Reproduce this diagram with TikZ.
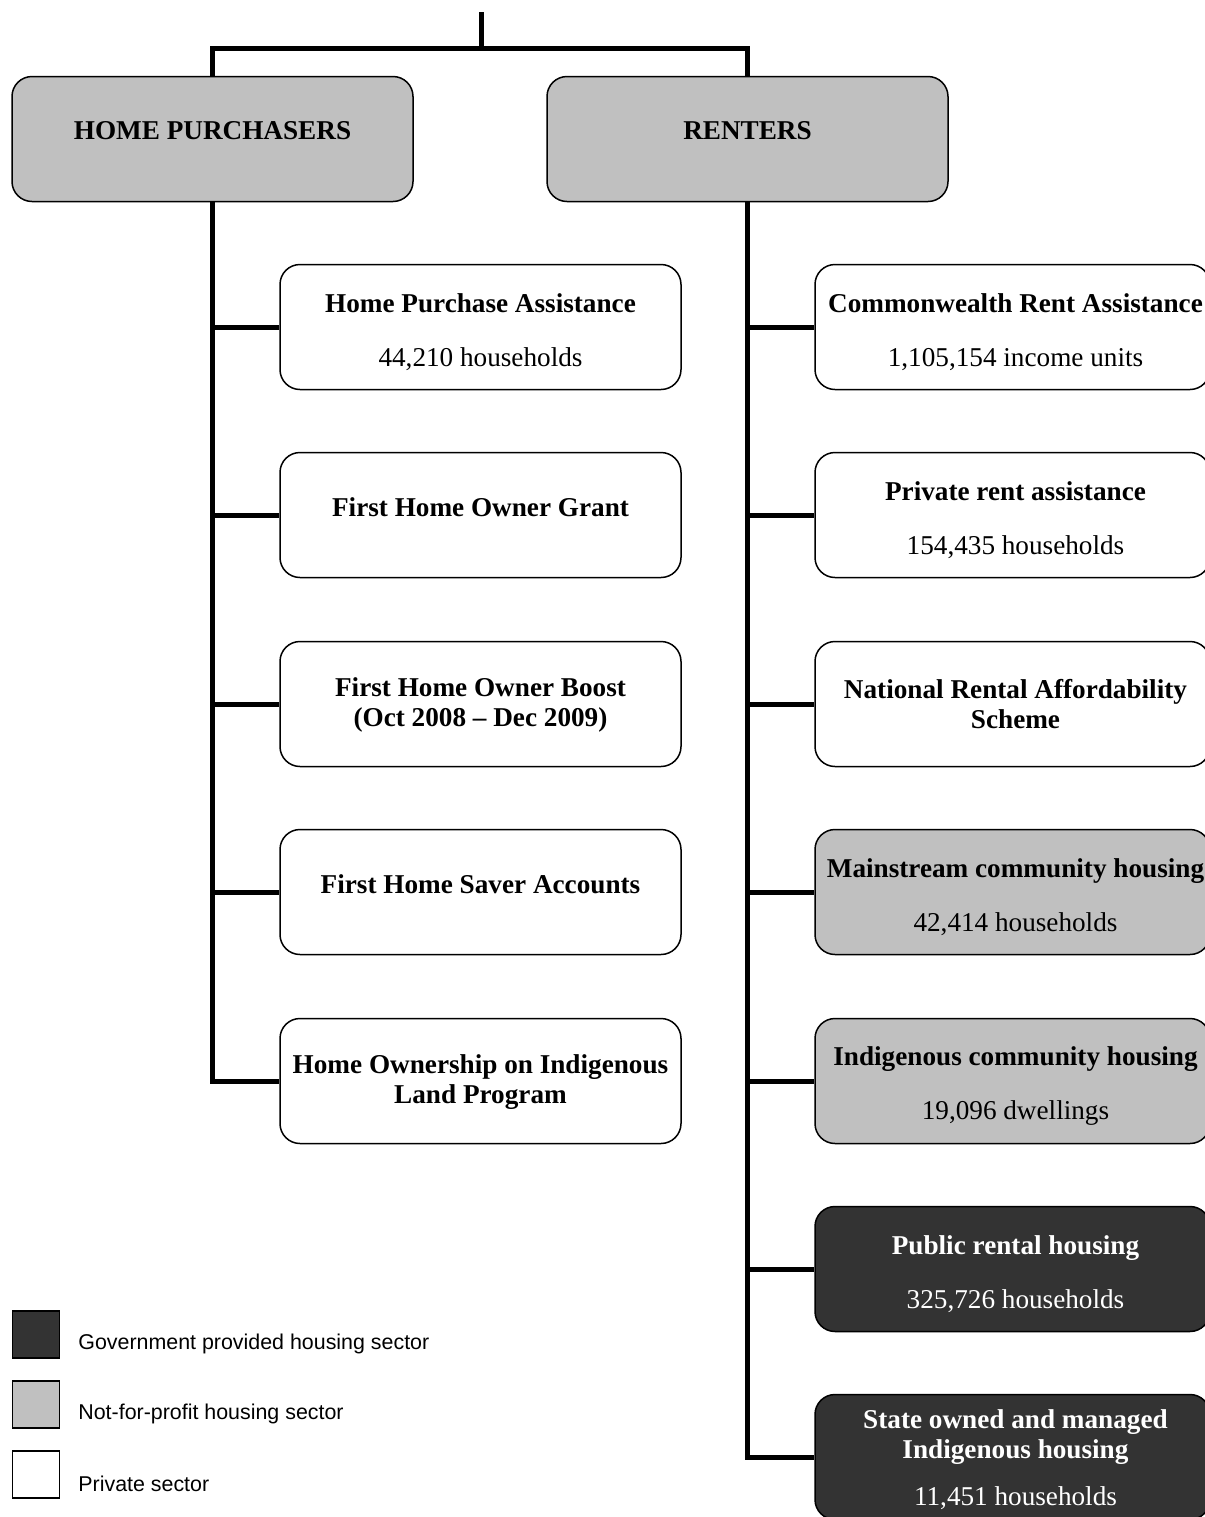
\documentclass[tikz,border=0pt]{standalone}
\usepackage{fontspec}
\setmainfont{Liberation Serif}
\newfontfamily\legendfont{Liberation Sans}
\usetikzlibrary{calc}
\definecolor{lightbox}{RGB}{192,192,192}
\definecolor{darkbox}{RGB}{51,51,51}
\begin{document}
\begin{tikzpicture}[x=0.5pt,y=-0.5pt,
  box/.style={draw=black, line width=0.75pt, rounded corners=10pt,
    minimum width=200.5pt, minimum height=62.5pt, inner sep=0pt},
  rbox/.style={box, minimum width=197.5pt},
  privbox/.style={fill=white},
  nfpbox/.style={fill=lightbox},
  govbox/.style={fill=darkbox},
  txt/.style={align=center, inner sep=0pt, font=\bfseries\fontsize{13.6}{15}\selectfont},
  wtxt/.style={txt, text=white},
  conn/.style={line width=2.5pt, line join=miter},
  legsq/.style={draw=black, line width=0.75pt, minimum size=23.5pt, inner sep=0pt},
  legtxt/.style={anchor=west, inner sep=0pt, font=\legendfont\fontsize{10.7}{12}\selectfont}
]
\useasboundingbox (0,0) rectangle (1205,1517);
\clip (0,0) rectangle (1205,1517);

% top-level boxes
\node[box, nfpbox] (hp) at (212.5,139) {};
\node[box, nfpbox] (rt) at (747.5,139) {};
\node[txt] (hp-t) at ($(hp.center)+(0,-8)$) {HOME PURCHASERS};
\node[txt] (rt-t) at ($(rt.center)+(0,-8)$) {RENTERS};

% left column
\node[box, privbox] (l1) at (480.5,327) {};
\node[box, privbox] (l2) at (480.5,515) {};
\node[box, privbox] (l3) at (480.5,704) {};
\node[box, privbox] (l4) at (480.5,892) {};
\node[box, privbox] (l5) at (480.5,1081) {};
\node[txt] (l1-t) at ($(l1.center)+(0,5)$) {Home Purchase Assistance\\[12pt]\mdseries 44,210 households};
\node[txt] (l2-t) at ($(l2.center)+(0,-8)$) {First Home Owner Grant};
\node[txt] (l3-t) at ($(l3.center)+(0,1)$) {First Home Owner Boost\\(Oct 2008 -- Dec 2009)};
\node[txt] (l4-t) at ($(l4.center)+(0,-8)$) {First Home Saver Accounts};
\node[txt] (l5-t) at ($(l5.center)+(0,1)$) {Home Ownership on Indigenous\\Land Program};

% right column
\node[rbox, privbox] (r1) at (1012.5,327) {};
\node[rbox, privbox] (r2) at (1012.5,515) {};
\node[rbox, privbox] (r3) at (1012.5,704) {};
\node[rbox, nfpbox] (r4) at (1012.5,892) {};
\node[rbox, nfpbox] (r5) at (1012.5,1081) {};
\node[rbox, govbox] (r6) at (1012.5,1269) {};
\node[rbox, govbox] (r7) at (1012.5,1457) {};
\node[txt] (r1-t) at ($(r1.center)+(3,5)$) {Commonwealth Rent Assistance\\[12pt]\mdseries 1,105,154 income units};
\node[txt] (r2-t) at ($(r2.center)+(3,5)$) {Private rent assistance\\[12pt]\mdseries 154,435 households};
\node[txt] (r3-t) at ($(r3.center)+(3,0)$) {National Rental Affordability\\Scheme};
\node[txt] (r4-t) at ($(r4.center)+(3,5)$) {Mainstream community housing\\[12pt]\mdseries 42,414 households};
\node[txt] (r5-t) at ($(r5.center)+(3,5)$) {Indigenous community housing\\[12pt]\mdseries 19,096 dwellings};
\node[wtxt] (r6-t) at ($(r6.center)+(3,5)$) {Public rental housing\\[12pt]\mdseries 325,726 households};
\node[wtxt] (r7-t) at ($(r7.center)+(3,3)$) {State owned and managed\\Indigenous housing\\[8.5pt]\mdseries 11,451 households};

% connectors
\coordinate (topend) at (481,12);
\coordinate (split) at (481,48);
\draw[conn] (topend) -- (split);
\draw[conn] (hp.north) |- (split) -| (rt.north);

\draw[conn] (hp.south) |- (l5.west);
\foreach \n in {l1,l2,l3,l4}{
  \draw[conn] (hp.south |- \n.west) -- (\n.west);
}
\draw[conn] (rt.south) |- (r7.west);
\foreach \n in {r1,r2,r3,r4,r5,r6}{
  \draw[conn] (rt.south |- \n.west) -- (\n.west);
}

% legend
\node[legsq, fill=darkbox] (lg1) at (36,1334.5) {};
\node[legsq, fill=lightbox] (lg2) at (36,1404.5) {};
\node[legsq, fill=white] (lg3) at (36,1474.5) {};
\node[legtxt] (lt1) at (78,1344) {Government provided housing sector};
\node[legtxt] (lt2) at (78,1414) {Not-for-profit housing sector};
\node[legtxt] (lt3) at (78,1484) {Private sector};
\end{tikzpicture}
\end{document}
